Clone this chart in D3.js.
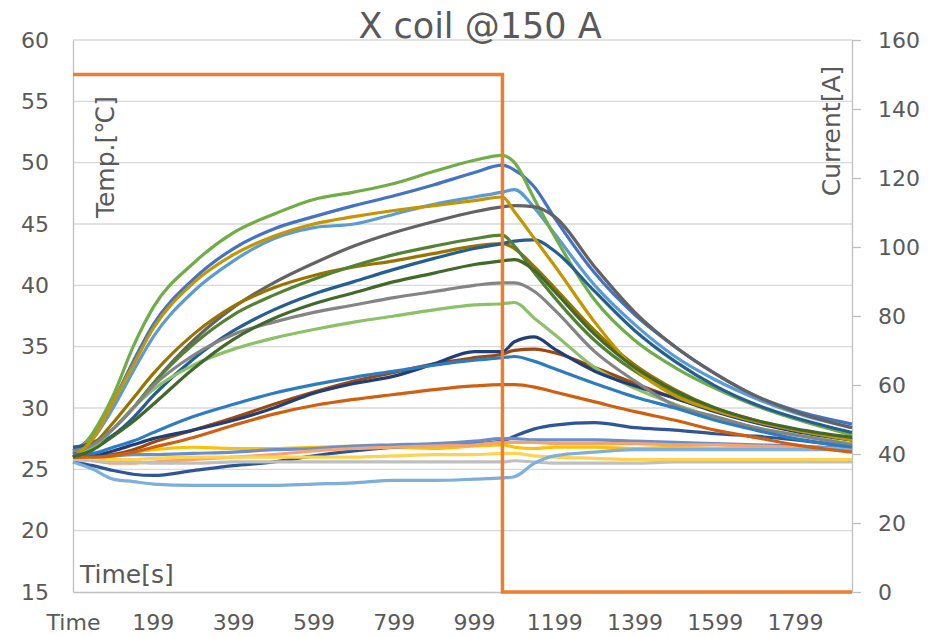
<!DOCTYPE html>
<html>
<head>
<meta charset="utf-8">
<script src="https://cdn.jsdelivr.net/npm/d3@7"></script>
<style>
body { margin: 0; background: #fff; }
text { font-family: "DejaVu Sans", Verdana, sans-serif; fill: #595959; }
</style>
</head>
<body>
<div id="chart"></div>
<script>
// sample times [s]
var times = [0, 50, 100, 150, 200, 300, 400, 500, 600, 700, 800, 900, 1000, 1070, 1100, 1150, 1200, 1300, 1400, 1500, 1600, 1700, 1800, 1941];

// temperatures [degC], one array per sensor
var sB1  = [26.5, 27.8, 30.5, 33.8, 36.8, 40.5, 43.0, 44.6, 45.6, 46.5, 47.3, 48.2, 49.2, 49.8, 49.4, 48.0, 45.5, 41.0, 37.6, 35.0, 32.8, 31.0, 29.8, 28.7];
var sGF  = [26.0, 26.1, 26.2, 26.4, 26.6, 26.8, 26.7, 26.7, 26.8, 26.9, 26.8, 26.7, 26.9, 27.0, 26.8, 26.7, 26.8, 26.8, 26.7, 26.8, 26.7, 26.8, 26.7, 26.7];
var sLB  = [26.2, 27.5, 30.0, 33.0, 35.8, 39.5, 42.0, 43.8, 44.7, 45.0, 45.8, 46.6, 47.2, 47.6, 47.8, 46.3, 44.2, 40.0, 36.8, 34.2, 32.3, 30.8, 29.6, 28.4];
var sG1  = [26.0, 28.0, 31.0, 35.0, 38.2, 41.8, 44.3, 45.8, 47.0, 47.6, 48.3, 49.3, 50.2, 50.6, 50.0, 47.0, 44.0, 38.8, 35.5, 33.3, 31.6, 30.2, 29.1, 27.8];
var sND  = [25.6, 25.3, 24.9, 24.6, 24.5, 24.9, 25.3, 25.6, 26.1, 26.5, 26.8, 27.0, 27.1, 27.3, 27.7, 28.3, 28.6, 28.8, 28.4, 28.2, 27.9, 27.7, 27.4, 26.8];
var sBr  = [26.0, 26.0, 26.2, 26.6, 27.2, 28.2, 29.2, 30.3, 31.3, 32.2, 32.9, 33.6, 34.1, 34.4, 34.7, 34.8, 34.5, 33.3, 32.0, 30.8, 29.8, 28.9, 28.2, 27.4];
var sDG  = [26.8, 27.2, 28.3, 30.0, 32.0, 35.5, 38.2, 40.2, 41.8, 43.2, 44.3, 45.2, 46.0, 46.4, 46.5, 46.4, 45.6, 41.5, 37.8, 35.0, 32.8, 31.0, 29.7, 28.4];
var sDGo = [26.0, 27.0, 28.8, 30.8, 32.8, 36.0, 38.3, 39.8, 40.8, 41.5, 42.0, 42.6, 43.2, 43.4, 43.0, 41.5, 39.8, 36.3, 33.5, 31.5, 30.0, 29.0, 28.2, 27.4];
var sDB  = [26.8, 27.0, 27.8, 29.2, 31.0, 34.0, 36.3, 38.0, 39.3, 40.3, 41.3, 42.2, 43.0, 43.4, 43.6, 43.7, 42.8, 39.5, 36.3, 33.8, 31.8, 30.3, 29.2, 28.0];
var sGM  = [26.3, 27.0, 28.3, 30.0, 32.0, 35.2, 37.6, 39.2, 40.5, 41.6, 42.5, 43.2, 43.8, 44.1, 43.2, 41.0, 39.0, 35.5, 33.0, 31.2, 29.9, 28.9, 28.2, 27.5];
var sBL  = [26.0, 26.0, 26.1, 26.2, 26.2, 26.3, 26.4, 26.6, 26.7, 26.9, 27.0, 27.1, 27.3, 27.5, 27.5, 27.4, 27.4, 27.4, 27.3, 27.2, 27.1, 27.0, 26.9, 26.7];
var sLO  = [26.0, 25.7, 25.5, 25.5, 25.6, 25.8, 26.0, 26.2, 26.5, 26.7, 26.8, 26.9, 27.0, 27.2, 27.2, 27.2, 27.1, 27.1, 27.1, 27.0, 27.0, 26.9, 26.8, 26.6];
var sLGy = [25.8, 25.7, 25.6, 25.6, 25.5, 25.5, 25.6, 25.6, 25.6, 25.6, 25.6, 25.6, 25.6, 25.6, 25.7, 25.6, 25.5, 25.5, 25.5, 25.6, 25.6, 25.6, 25.6, 25.6];
var sYL  = [26.0, 25.9, 25.8, 25.8, 25.9, 26.0, 26.0, 26.0, 26.0, 26.0, 26.1, 26.2, 26.2, 26.3, 26.3, 26.1, 26.0, 25.9, 25.8, 25.8, 25.8, 25.8, 25.8, 25.8];
var sLBD = [25.6, 25.0, 24.2, 24.0, 23.8, 23.7, 23.7, 23.7, 23.8, 23.9, 24.1, 24.1, 24.2, 24.3, 24.4, 25.5, 26.1, 26.4, 26.6, 26.6, 26.6, 26.6, 26.6, 26.6];
var sLG  = [26.0, 26.8, 28.3, 30.0, 31.5, 33.5, 34.8, 35.7, 36.4, 37.0, 37.5, 38.0, 38.4, 38.5, 38.6, 37.3, 36.0, 33.3, 31.6, 30.3, 29.2, 28.4, 27.8, 27.1];
var sNV  = [26.0, 26.1, 26.5, 27.0, 27.5, 28.2, 29.0, 30.0, 31.2, 32.0, 32.6, 33.6, 34.6, 34.6, 35.4, 35.8, 34.8, 33.0, 31.8, 30.8, 29.7, 28.8, 28.1, 27.4];
var sDO  = [26.0, 26.0, 26.1, 26.4, 26.8, 27.6, 28.6, 29.5, 30.2, 30.7, 31.1, 31.5, 31.8, 31.9, 31.9, 31.7, 31.3, 30.5, 29.7, 29.0, 28.2, 27.6, 27.0, 26.4];
var sGr  = [26.5, 27.0, 28.3, 30.0, 31.8, 34.3, 36.0, 37.0, 37.8, 38.4, 39.0, 39.5, 40.0, 40.2, 40.2, 39.5, 38.0, 34.6, 32.2, 30.2, 29.3, 28.4, 27.8, 27.0];
var sGo  = [26.0, 27.5, 30.5, 33.5, 36.5, 40.2, 42.5, 44.0, 45.0, 45.6, 46.1, 46.5, 46.9, 47.2, 46.0, 43.8, 41.6, 37.0, 33.2, 31.0, 29.8, 28.9, 28.2, 27.4];
var sB2  = [26.2, 26.3, 26.8, 27.3, 28.0, 29.3, 30.3, 31.2, 31.9, 32.5, 33.0, 33.5, 33.9, 34.1, 34.2, 33.8, 33.2, 32.0, 30.9, 30.0, 29.0, 28.2, 27.5, 26.8];
var sDGr = [26.0, 26.6, 27.7, 28.9, 30.3, 33.2, 35.6, 37.3, 38.5, 39.4, 40.3, 41.0, 41.7, 42.0, 42.1, 41.2, 39.5, 36.0, 33.3, 31.4, 30.0, 29.0, 28.3, 27.6];

// coil current [A]
var currentTimes = [0, 1070, 1070, 1941];
var currentVals = [150, 150, 0, 0];

var xTickVals = [0, 199, 399, 599, 799, 999, 1199, 1399, 1599, 1799];
var xTickText = ["Time", "199", "399", "599", "799", "999", "1199", "1399", "1599", "1799"];
var tempTicks = [15, 20, 25, 30, 35, 40, 45, 50, 55, 60];
var currentTicks = [0, 20, 40, 60, 80, 100, 120, 140, 160];

var series = [sB1, sGF, sLB, sG1, sND, sBr, sDG, sDGo, sDB, sGM, sBL, sLO, sLGy, sYL, sLBD, sLG, sNV, sDO, sGr, sGo, sB2, sDGr];
var colors = ["#4472C4", "#FFC000", "#5B9BD5", "#70AD47", "#2F5597", "#9E480E", "#636363", "#997300", "#255E91", "#548235",
              "#698ED0", "#F4A46E", "#BFBFBF", "#FFD34D", "#7CAFDD", "#8CC168", "#203F78", "#D0600F", "#848484", "#C49600", "#2E7CC0", "#43682B"];

var width = 935, height = 637;
var plotL = 73, plotR = 852, plotT = 40, plotB = 592;

var svg = d3.select("#chart").append("svg")
	.attr("width", width).attr("height", height);

var x = d3.scaleLinear().domain([0, 1941]).range([plotL, plotR]);
var y = d3.scaleLinear().domain([15, 60]).range([plotB, plotT]);
var y2 = d3.scaleLinear().domain([0, 160]).range([plotB, plotT]);

//  grid lines
svg.append("g").selectAll("line").data(tempTicks.slice(1)).enter().append("line")
	.attr("x1", plotL).attr("x2", plotR)
	.attr("y1", function(d) { return y(d); }).attr("y2", function(d) { return y(d); })
	.attr("stroke", "#D9D9D9").attr("stroke-width", 1.3);

//  left axis
var yAxis = svg.append("g").attr("transform", "translate(" + plotL + ",0)")
	.call(d3.axisLeft(y).tickValues(tempTicks).tickSize(0).tickPadding(24));
yAxis.select(".domain").attr("stroke", "#BFBFBF").attr("stroke-width", 1.3);
yAxis.selectAll("text").style("font-size", "22px").attr("fill", "#595959");

//  right axis
var y2Axis = svg.append("g").attr("transform", "translate(" + plotR + ",0)")
	.call(d3.axisRight(y2).tickValues(currentTicks).tickSize(9).tickSizeOuter(0).tickPadding(17));
y2Axis.select(".domain").attr("stroke", "#BFBFBF").attr("stroke-width", 1.3);
y2Axis.selectAll("line").attr("stroke", "#BFBFBF").attr("stroke-width", 1.3);
y2Axis.selectAll("text").style("font-size", "22px").attr("fill", "#595959");

//  bottom axis
var xAxis = svg.append("g").attr("transform", "translate(0," + plotB + ")")
	.call(d3.axisBottom(x).tickValues(xTickVals).tickSize(0).tickPadding(22)
		.tickFormat(function(d, i) { return xTickText[i]; }));
xAxis.select(".domain").attr("stroke", "#BFBFBF").attr("stroke-width", 1.3);
xAxis.selectAll("text").style("font-size", "22px").attr("fill", "#595959");

//  temperature lines
var line = d3.line()
	.x(function(d, i) { return x(times[i]); })
	.y(function(d) { return y(d); })
	.curve(d3.curveMonotoneX);

svg.append("g").selectAll("path").data(series).enter().append("path")
	.attr("d", line)
	.attr("fill", "none")
	.attr("stroke", function(d, i) { return colors[i]; })
	.attr("stroke-width", 3.2)
	.attr("stroke-linejoin", "round");

//  current line
var cline = d3.line()
	.x(function(d, i) { return x(currentTimes[i]); })
	.y(function(d) { return y2(d); });

svg.append("path").datum(currentVals)
	.attr("d", cline)
	.attr("fill", "none")
	.attr("stroke", "#ED7D31")
	.attr("stroke-width", 3.5);

//  titles
svg.append("text").attr("x", 480).attr("y", 38).attr("text-anchor", "middle")
	.style("font-size", "35px").text("X coil @150 A");

svg.append("text").attr("transform", "translate(114,157)rotate(-90)")
	.attr("text-anchor", "middle").style("font-size", "25px").text("Temp.[℃]");

svg.append("text").attr("transform", "translate(840,131)rotate(-90)")
	.attr("text-anchor", "middle").style("font-size", "25px").text("Current[A]");

svg.append("text").attr("x", 80).attr("y", 583)
	.style("font-size", "25px").text("Time[s]");
</script>
</body>
</html>
